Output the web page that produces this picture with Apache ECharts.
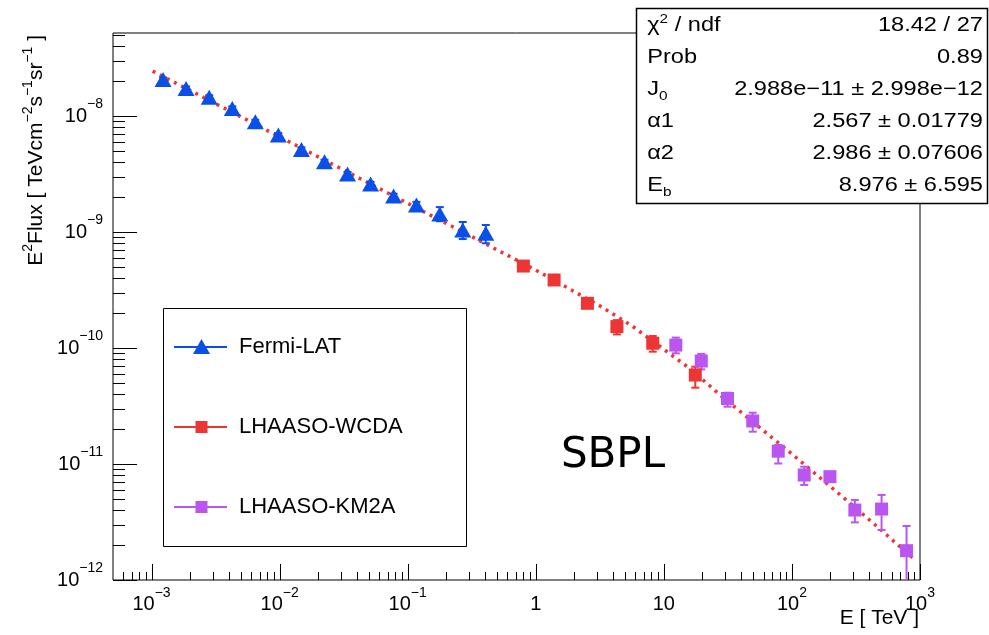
<!DOCTYPE html>
<html>
<head>
<meta charset="utf-8">
<title>SBPL fit</title>
<script src="https://cdn.jsdelivr.net/npm/echarts@6.0.0/dist/echarts.min.js"></script>
<style>
    html, body { margin: 0; padding: 0; background: #ffffff; }
    #chart { width: 989px; height: 635px; }
</style>
</head>
<body>
<div id="chart"></div>
<script>
// Fermi-LAT points (E in TeV, E^2 flux)
var fermiE  = [1.23e-3, 1.86e-3, 2.82e-3, 4.27e-3, 6.46e-3, 9.77e-3, 0.0148, 0.0224, 0.0339, 0.0513, 0.0776, 0.117, 0.178, 0.269, 0.407];
var fermiF  = [2.07e-8, 1.73e-8, 1.45e-8, 1.16e-8, 8.93e-9, 6.86e-9, 5.16e-9, 4.04e-9, 3.16e-9, 2.59e-9, 2.04e-9, 1.71e-9, 1.43e-9, 1.04e-9, 9.75e-10];
var fermiLo = [1.99e-8, 1.66e-8, 1.39e-8, 1.11e-8, 8.57e-9, 6.59e-9, 4.95e-9, 3.88e-9, 3.03e-9, 2.47e-9, 1.94e-9, 1.60e-9, 1.24e-9, 8.7e-10, 8.0e-10];
var fermiHi = [2.15e-8, 1.80e-8, 1.51e-8, 1.21e-8, 9.29e-9, 7.13e-9, 5.37e-9, 4.20e-9, 3.29e-9, 2.71e-9, 2.14e-9, 1.82e-9, 1.64e-9, 1.22e-9, 1.15e-9];

// LHAASO-WCDA
var wcdaE  = [0.80, 1.39, 2.53, 4.30, 8.19, 17.6];
var wcdaF  = [5.09e-10, 3.86e-10, 2.43e-10, 1.53e-10, 1.10e-10, 5.85e-11];
var wcdaLo = [4.85e-10, 3.70e-10, 2.30e-10, 1.31e-10, 9.3e-11, 4.55e-11];
var wcdaHi = [5.33e-10, 4.02e-10, 2.56e-10, 1.74e-10, 1.27e-10, 6.9e-11];

// LHAASO-KM2A
var km2aE  = [12.4, 19.6, 31.4, 49.4, 78.2, 124.7, 198, 310, 501, 785];
var km2aF  = [1.06e-10, 7.73e-11, 3.67e-11, 2.35e-11, 1.29e-11, 8.04e-12, 7.78e-12, 4.01e-12, 4.09e-12, 1.79e-12];
var km2aLo = [9.0e-11, 6.55e-11, 3.12e-11, 1.90e-11, 1.01e-11, 6.6e-12, 7.0e-12, 3.14e-12, 2.70e-12, 5e-13];
var km2aHi = [1.23e-10, 8.9e-11, 4.12e-11, 2.77e-11, 1.46e-11, 9.48e-12, 8.5e-12, 4.90e-12, 5.41e-12, 2.92e-12];

// SBPL fit curve
var fitE = [1.02e-3, 0.01452, 0.2148, 1.0, 3.18, 5.65, 10.05, 16.6, 27.5, 100, 315, 880];
var fitF = [2.44e-8, 5.35e-9, 1.14e-9, 4.70e-10, 2.30e-10, 1.55e-10, 9.7e-11, 6.44e-11, 3.93e-11, 1.22e-11, 4.18e-12, 1.55e-12];

// axes
var xMin = 5e-4, xMax = 1000, yMin = 1e-12, yMax = 5.2e-8;
var xMajor = [1e-3, 1e-2, 1e-1, 1, 10, 100, 1000];
var xMajorText = ['{b|10}{s|−3}', '{b|10}{s|−2}', '{b|10}{s|−1}', '{b|1}', '{b|10}', '{b|10}{s|2}', '{b|10}{s|3}'];
var yMajor = [1e-12, 1e-11, 1e-10, 1e-9, 1e-8];
var yMajorText = ['{b|10}{s|−12}', '{b|10}{s|−11}', '{b|10}{s|−10}', '{b|10}{s|−9}', '{b|10}{s|−8}'];

// stats box
var statNames  = ['{n|χ}{s|2}{n| / ndf}', '{n|Prob}', '{n|J}{d|0}', '{n|α1}', '{n|α2}', '{n|E}{d|b}'];
var statValues = ['18.42 / 27', '0.89', '2.988e−11 ± 2.998e−12', '2.567 ± 0.01779', '2.986 ± 0.07606', '8.976 ± 6.595'];

var FONT = '"Liberation Sans", Arial, Helvetica, sans-serif';
var cBlue = '#0a4fe8', cRed = '#ec3535', cPurple = '#bb55f0', cFit = '#f03434';

function zip(a, b) { return a.map(function (v, i) { return [v, b[i]]; }); }
function zip3(a, b, c) { return a.map(function (v, i) { return [v, b[i], c[i]]; }); }

function minorTicks(lo, hi) {
    var out = [];
    for (var e = Math.floor(Math.log10(lo)); e <= Math.ceil(Math.log10(hi)); e++) {
        for (var m = 2; m <= 9; m++) {
            var v = m * Math.pow(10, e);
            if (v > lo && v < hi) out.push(v);
        }
    }
    return out;
}

function majorLabel(list, text) {
    return function (v) {
        for (var i = 0; i < list.length; i++) {
            if (Math.abs(Math.log10(v) - Math.log10(list[i])) < 1e-6) return text[i];
        }
        return '';
    };
}

var xTickData = xMajor.map(function (v) { return [v, yMin, 16]; })
    .concat(minorTicks(xMin, xMax).map(function (v) { return [v, yMin, 8]; }));
var yTickData = yMajor.map(function (v) { return [xMin, v, 24]; })
    .concat(minorTicks(yMin, yMax).map(function (v) { return [xMin, v, 12]; }));

function xTick(params, api) {
    var p = api.coord([api.value(0), api.value(1)]);
    var x = Math.round(p[0]) + 0.5;
    return {type: 'line', shape: {x1: x, y1: p[1], x2: x, y2: p[1] - api.value(2)},
        style: {stroke: '#000', lineWidth: 1}};
}
function yTick(params, api) {
    var p = api.coord([api.value(0), api.value(1)]);
    var y = Math.round(p[1]) + 0.5;
    return {type: 'line', shape: {x1: p[0], y1: y, x2: p[0] + api.value(2), y2: y},
        style: {stroke: '#000', lineWidth: 1}};
}

function errBar(color) {
    return function (params, api) {
        var cs = params.coordSys;
        var lo = api.coord([api.value(0), api.value(1)]);
        var hi = api.coord([api.value(0), api.value(2)]);
        var x = lo[0], yl = lo[1], yh = hi[1];
        var top = cs.y, bot = cs.y + cs.height;
        var capL = yl <= bot, capH = yh >= top;
        yl = Math.min(yl, bot);
        yh = Math.max(yh, top);
        var st = {stroke: color, lineWidth: 2};
        var ch = [{type: 'line', shape: {x1: x, y1: yl, x2: x, y2: yh}, style: st}];
        if (capL) ch.push({type: 'line', shape: {x1: x - 4, y1: yl, x2: x + 4, y2: yl}, style: st});
        if (capH) ch.push({type: 'line', shape: {x1: x - 4, y1: yh, x2: x + 4, y2: yh}, style: st});
        return {type: 'group', children: ch};
    };
}

var labelRich = {
    b: {fontFamily: FONT, fontSize: 20, lineHeight: 37, verticalAlign: 'middle', color: '#000'},
    s: {fontFamily: FONT, fontSize: 14, lineHeight: 14, verticalAlign: 'top', color: '#000'}
};

var statRich = {
    n: {fontFamily: FONT, fontSize: 20, lineHeight: 32, verticalAlign: 'middle', color: '#000'},
    s: {fontFamily: FONT, fontSize: 13, lineHeight: 13, verticalAlign: 'top', padding: [4, 0, 0, 0], color: '#000'},
    d: {fontFamily: FONT, fontSize: 13, lineHeight: 13, verticalAlign: 'bottom', padding: [0, 0, 2, 0], color: '#000'}
};

var statRows = [25, 57, 89, 121, 153, 185];
var statChildren = [];
statNames.forEach(function (t, i) {
    statChildren.push({type: 'text', x: 9.5, y: statRows[i], z: 20,
        style: {text: t, rich: statRich, align: 'left', verticalAlign: 'middle'}});
    statChildren.push({type: 'text', x: 294, y: statRows[i], z: 20,
        style: {text: statValues[i], fontFamily: FONT, fontSize: 20, fill: '#000', align: 'right', verticalAlign: 'middle'}});
});

var legendRows = [
    {name: 'Fermi-LAT', color: cBlue, y: 347, shape: 'tri'},
    {name: 'LHAASO-WCDA', color: cRed, y: 427, shape: 'sq'},
    {name: 'LHAASO-KM2A', color: cPurple, y: 507, shape: 'sq'}
];
var legendChildren = [{type: 'rect', shape: {x: 163.5, y: 308.5, width: 303, height: 238},
    style: {fill: '#fff', stroke: '#000', lineWidth: 1}}];
legendRows.forEach(function (r) {
    legendChildren.push({type: 'line', shape: {x1: 174, y1: r.y, x2: 227, y2: r.y}, style: {stroke: r.color, lineWidth: 2}});
    if (r.shape === 'tri') {
        legendChildren.push({type: 'polygon', shape: {points: [[201.5, r.y - 8], [193, r.y + 7], [210, r.y + 7]]}, style: {fill: r.color}});
    } else {
        legendChildren.push({type: 'rect', shape: {x: 195.5, y: r.y - 6, width: 12, height: 12}, style: {fill: r.color}});
    }
    legendChildren.push({type: 'text', x: 239, y: r.y,
        style: {text: r.name, fontFamily: FONT, fontSize: 22, fill: '#000', align: 'left', verticalAlign: 'middle'}});
});

var chart = echarts.init(document.getElementById('chart'), null, {renderer: 'canvas'});

var option = {
    backgroundColor: '#ffffff',
    animation: false,
    grid: {left: 113, top: 33, right: 69, bottom: 55, show: true, borderColor: '#000', borderWidth: 1,
        backgroundColor: 'transparent', containLabel: false, outerBoundsMode: 'none'},
    xAxis: {
        type: 'log', logBase: 10, min: xMin, max: xMax, splitNumber: 7,
        axisLine: {show: false}, axisTick: {show: false}, splitLine: {show: false},
        axisLabel: {margin: 6, formatter: majorLabel(xMajor, xMajorText), rich: labelRich, showMinLabel: true, showMaxLabel: true}
    },
    yAxis: {
        type: 'log', logBase: 10, min: yMin, max: yMax, splitNumber: 5,
        axisLine: {show: false}, axisTick: {show: false}, splitLine: {show: false},
        axisLabel: {margin: 10, formatter: majorLabel(yMajor, yMajorText), rich: labelRich, showMinLabel: true, showMaxLabel: true}
    },
    series: [
        {type: 'custom', renderItem: xTick, data: xTickData, encode: {x: 0, y: 1}, silent: true, z: 1},
        {type: 'custom', renderItem: yTick, data: yTickData, encode: {x: 0, y: 1}, silent: true, z: 1},
        {
            name: 'SBPL', type: 'line', data: zip(fitE, fitF), showSymbol: false, smooth: false,
            lineStyle: {color: cFit, width: 3.5, type: [3, 5]}, z: 2, silent: true
        },
        {type: 'custom', renderItem: errBar(cBlue), data: zip3(fermiE, fermiLo, fermiHi), encode: {x: 0, y: [1, 2]}, z: 3},
        {type: 'custom', renderItem: errBar(cRed), data: zip3(wcdaE, wcdaLo, wcdaHi), encode: {x: 0, y: [1, 2]}, z: 3},
        {type: 'custom', renderItem: errBar(cPurple), data: zip3(km2aE, km2aLo, km2aHi), encode: {x: 0, y: [1, 2]}, z: 3},
        {name: 'Fermi-LAT', type: 'scatter', data: zip(fermiE, fermiF), symbol: 'triangle', symbolSize: [17, 15],
            itemStyle: {color: cBlue, opacity: 1}, z: 4},
        {name: 'LHAASO-WCDA', type: 'scatter', data: zip(wcdaE, wcdaF), symbol: 'rect', symbolSize: 13,
            itemStyle: {color: cRed, opacity: 1}, z: 4},
        {name: 'LHAASO-KM2A', type: 'scatter', data: zip(km2aE, km2aF), symbol: 'rect', symbolSize: 13,
            itemStyle: {color: cPurple, opacity: 1}, z: 4}
    ],
    graphic: [
        {type: 'group', children: legendChildren},
        {type: 'rect', shape: {x: 636.5, y: 8.5, width: 351, height: 195},
            style: {fill: '#fff', stroke: '#000', lineWidth: 1.5}},
        {type: 'group', x: 636, y: 0, scaleX: 1.18, scaleY: 1, children: statChildren},
        {type: 'text', x: 613, y: 456,
            style: {text: 'SBPL', fontFamily: '"DejaVu Sans", sans-serif', fontSize: 42, fill: '#000', align: 'center', verticalAlign: 'middle'}},
        {type: 'text', x: 919, y: 618,
            style: {text: 'E [ TeV ]', fontFamily: FONT, fontSize: 21, fill: '#000', align: 'right', verticalAlign: 'middle'}},
        {type: 'text', x: 36, y: 35, rotation: Math.PI / 2,
            style: {
                text: '{m|E}{u|2}{m|Flux [ TeVcm}{u|−2}{m|s}{u|−1}{m|sr}{u|−1}{m| ]}',
                rich: {
                    m: {fontFamily: FONT, fontSize: 21, lineHeight: 30, verticalAlign: 'middle', color: '#000'},
                    u: {fontFamily: FONT, fontSize: 14, lineHeight: 14, verticalAlign: 'top', color: '#000'}
                },
                align: 'right', verticalAlign: 'middle'
            }}
    ]
};

chart.setOption(option);
</script>
</body>
</html>
